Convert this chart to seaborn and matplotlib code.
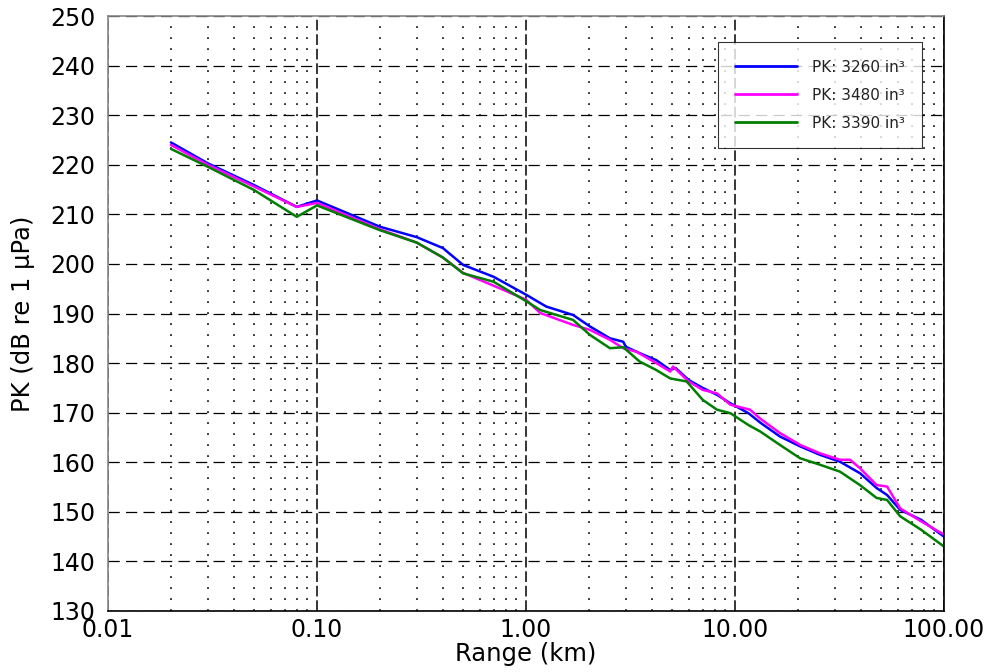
import numpy as np
import pandas as pd
import matplotlib
matplotlib.use("Agg")
import matplotlib.pyplot as plt
import matplotlib.ticker as mticker
import seaborn as sns

# values (range in km, level in dB)
range_3260 = [0.02, 0.03, 0.05, 0.08, 0.1, 0.2, 0.3, 0.4, 0.5, 0.7, 1.0, 1.25, 1.68,
              2.02, 2.52, 2.92, 3.0, 3.5, 4.2, 4.9, 5.2, 6.0, 7.0, 8.2, 9.5, 11.6,
              13.2, 16.4, 20.5, 25.5, 31.8, 39.6, 47.6, 53.4, 61.7, 77.6, 100]
pk_3260 = [224.5, 220.3, 215.9, 211.5, 212.8, 207.5, 205.4, 203.2, 199.8, 197.4, 193.8, 191.4, 189.7,
           187.4, 185.0, 184.3, 183.3, 182.0, 180.6, 178.6, 179.0, 176.6, 175.0, 173.6, 171.9, 169.9,
           168.0, 165.2, 163.2, 161.5, 160.1, 157.8, 154.8, 153.4, 150.4, 148.4, 145.0]

range_3480 = [0.02, 0.03, 0.05, 0.08, 0.1, 0.2, 0.3, 0.4, 0.5, 0.7, 1.0, 1.17, 1.68,
              2.02, 2.52, 2.92, 3.37, 4.2, 4.9, 5.05, 6.0, 7.0, 8.2, 9.5, 11.8,
              13.2, 16.4, 20.5, 25.5, 31.8, 35.5, 39.6, 47.6, 53.4, 61.7, 77.6, 100]
pk_3480 = [224.0, 220.0, 215.6, 211.5, 212.3, 207.0, 204.3, 201.3, 198.2, 195.6, 192.8, 190.1, 187.7,
           186.7, 184.7, 183.0, 182.3, 180.0, 178.3, 179.3, 176.3, 174.6, 173.9, 171.6, 170.6,
           168.8, 165.9, 163.5, 161.8, 160.5, 160.5, 158.8, 155.4, 155.1, 150.7, 148.1, 145.4]

range_3390 = [0.02, 0.03, 0.05, 0.08, 0.1, 0.2, 0.3, 0.4, 0.5, 0.7, 1.0, 1.17, 1.68,
              2.02, 2.52, 2.92, 3.5, 4.2, 4.9, 5.87, 7.0, 8.2, 9.5, 11.6,
              13.2, 16.4, 20.5, 25.5, 31.8, 39.6, 47.6, 53.4, 61.7, 77.6, 100]
pk_3390 = [223.2, 219.6, 214.9, 209.5, 211.8, 206.8, 204.3, 201.3, 198.1, 196.4, 192.5, 190.7, 188.7,
           185.7, 183.0, 183.2, 180.3, 178.6, 176.9, 176.3, 172.6, 170.6, 169.9, 167.5,
           166.2, 163.5, 160.8, 159.5, 158.1, 155.4, 152.8, 152.4, 149.1, 146.4, 143.0]

labels = ["PK: 3260 in³", "PK: 3480 in³", "PK: 3390 in³"]
colors = ["#0000ff", "#ff00ff", "#007f00"]

df = pd.concat([
    pd.DataFrame({"range": range_3260, "pk": pk_3260, "series": labels[0]}),
    pd.DataFrame({"range": range_3480, "pk": pk_3480, "series": labels[1]}),
    pd.DataFrame({"range": range_3390, "pk": pk_3390, "series": labels[2]}),
])

sns.set_style("white")
plt.rcParams['font.family'] = ['DejaVu Sans']
plt.rcParams['text.color'] = 'black'
plt.rcParams['axes.labelcolor'] = 'black'
plt.rcParams['xtick.color'] = 'black'
plt.rcParams['ytick.color'] = 'black'

fig = plt.figure(figsize=(9.88, 6.72), dpi=100)
ax = fig.add_axes([108 / 988, 1 - 611 / 672, 836 / 988, 595 / 672])

sns.lineplot(data=df, x="range", y="pk", hue="series", palette=colors,
             sort=False, estimator=None, linewidth=1.8, ax=ax)

ax.set_xscale("log")
ax.set_xlim(0.01, 100)
ax.set_ylim(130, 250)
ax.set_xticks([0.01, 0.1, 1, 10, 100])
ax.xaxis.set_major_formatter(mticker.FormatStrFormatter("%.2f"))
ax.xaxis.set_minor_locator(mticker.LogLocator(base=10, subs=np.arange(2, 10)))
ax.xaxis.set_minor_formatter(mticker.NullFormatter())
ax.set_yticks(np.arange(130, 251, 10))
ax.tick_params(which="major", direction="in", length=4, width=1, color="black",
               labelcolor="black", labelsize=17)
ax.tick_params(which="minor", direction="in", length=2, width=0.8, color="black")
ax.tick_params(axis="y", pad=9)
ax.tick_params(axis="x", pad=5)

# grid: dashed major lines, dotted minor lines on x
ax.xaxis.grid(True, which="major", color="black", linewidth=1.1, linestyle=(0, (7, 2.5)))
ax.yaxis.grid(True, which="major", color="black", linewidth=0.9, linestyle=(0, (9, 5)))
ax.xaxis.grid(True, which="minor", color="black", linewidth=1.1, linestyle=(0, (1.2, 6)))
ax.set_axisbelow(True)

ax.set_xlabel("Range (km)", fontsize=17.5, labelpad=0, color="black")
ax.set_ylabel("PK (dB re 1 µPa)", fontsize=17.5, labelpad=11, color="black")

for side in ["left", "top"]:
    ax.spines[side].set_color("#888888")
for side in ["bottom", "right"]:
    ax.spines[side].set_color("black")
for s in ax.spines.values():
    s.set_linewidth(1.2)

handles, lbls = ax.get_legend_handles_labels()
leg = ax.legend(handles, lbls, loc="upper right", bbox_to_anchor=(0.974, 0.956),
                fontsize=11, frameon=True, fancybox=False, shadow=False,
                handlelength=4.0, handletextpad=1.0, labelspacing=0.85,
                borderpad=1.15, borderaxespad=0)
leg.get_frame().set_edgecolor("black")
leg.get_frame().set_linewidth(0.8)
for line in leg.get_lines():
    line.set_linewidth(2.0)
for t in leg.get_texts():
    t.set_color("#222222")

fig.savefig("out.png", dpi=100)
